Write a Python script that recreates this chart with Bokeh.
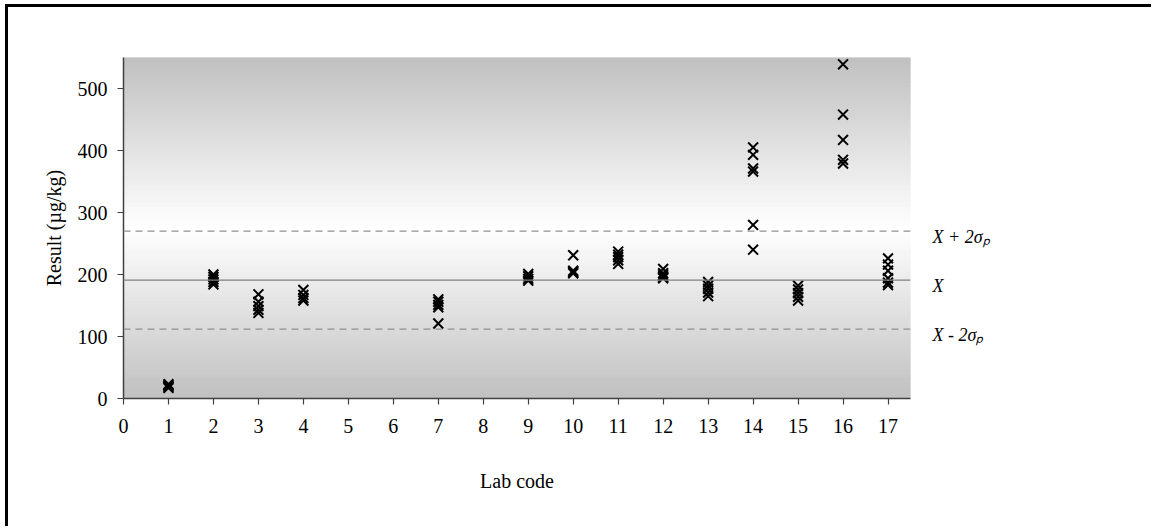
import numpy as np
from bokeh.plotting import figure
from bokeh.models import Span, Range1d, FixedTicker, LinearAxis
from bokeh.embed import file_html
from bokeh.resources import INLINE

# ---- data ----
lab01 = [17, 19, 21, 23]
lab02 = [200, 196, 192, 188, 184]
lab03 = [168, 156, 149, 143, 138]
lab04 = [175, 167, 162, 158]
lab07 = [160, 156, 151, 147, 121]
lab09 = [201, 197, 193, 190]
lab10 = [231, 206, 204, 202]
lab11 = [237, 232, 228, 223, 217]
lab12 = [209, 202, 199, 196, 194]
lab13 = [188, 182, 177, 171, 165]
lab14 = [405, 393, 371, 366, 280, 240]
lab15 = [182, 176, 170, 164, 158]
lab16 = [539, 458, 417, 385, 379]
lab17 = [226, 216, 206, 194, 187, 183]

lab_codes = [1, 2, 3, 4, 7, 9, 10, 11, 12, 13, 14, 15, 16, 17]
lab_results = [lab01, lab02, lab03, lab04, lab07, lab09, lab10, lab11,
               lab12, lab13, lab14, lab15, lab16, lab17]

assigned_value = 191
upper_limit = 270
lower_limit = 112
limit_labels = {upper_limit: "X + 2σₚ", assigned_value: "X", lower_limit: "X  - 2σₚ"}

x_ticks = list(range(0, 18))
y_ticks = [0, 100, 200, 300, 400, 500]
x_max = 17.5
y_max = 550

xs, ys = [], []
for code, vals in zip(lab_codes, lab_results):
    xs += [code] * len(vals)
    ys += vals

p = figure(width=1146, height=522, output_backend="svg", toolbar_location=None,
           x_range=Range1d(0, x_max), y_range=Range1d(0, y_max),
           min_border_left=115, min_border_right=244, min_border_top=50,
           min_border_bottom=131)
p.styles = {"margin-left": "5px", "margin-top": "4px",
            "border-left": "3px solid black", "border-top": "3px solid black"}
p.outline_line_color = None
p.xgrid.visible = False
p.ygrid.visible = False
p.background_fill_color = "white"
p.border_fill_color = "white"

# gradient background: grey at top/bottom, white in the middle
n_bands = 110
edges = np.linspace(0, y_max, n_bands + 1)
mids = (edges[:-1] + edges[1:]) / 2
t = np.abs(mids - y_max / 2) / (y_max / 2)
g = (255 - 63 * t).round().astype(int)
cols = ["#%02x%02x%02x" % (v, v, v) for v in g]
p.quad(left=0, right=x_max, bottom=edges[:-1], top=edges[1:],
       fill_color=cols, line_color=cols, line_width=1)

# reference lines
p.add_layout(Span(location=assigned_value, dimension="width",
                  line_color="#808080", line_width=1.2))
p.add_layout(Span(location=upper_limit, dimension="width",
                  line_color="#909090", line_width=1.2, line_dash="7 5"))
p.add_layout(Span(location=lower_limit, dimension="width",
                  line_color="#909090", line_width=1.2, line_dash="7 5"))

p.scatter(xs, ys, marker="x", size=14, line_color="black", line_width=2)

# axes
font = "Liberation Serif"
for ax in (p.xaxis[0], p.yaxis[0]):
    ax.axis_line_color = "#404040"
    ax.axis_line_width = 1.5
    ax.major_tick_line_color = "#404040"
    ax.major_tick_line_width = 1.2
    ax.major_tick_out = 6
    ax.major_tick_in = 0
    ax.minor_tick_line_color = None
    ax.major_label_text_font = font
    ax.major_label_text_font_size = "20px"
    ax.major_label_text_color = "black"
    ax.axis_label_text_font = font
    ax.axis_label_text_font_style = "normal"
    ax.axis_label_text_font_size = "20px"
    ax.axis_label_text_color = "black"

p.xaxis.ticker = FixedTicker(ticks=x_ticks)
p.yaxis.ticker = FixedTicker(ticks=y_ticks)
p.xaxis.major_label_standoff = 14
p.yaxis.major_label_standoff = 10
p.xaxis.axis_label = "Lab code"
p.yaxis.axis_label = "Result (µg/kg)"
p.xaxis.axis_label_standoff = 34
p.yaxis.axis_label_standoff = 10

# right-hand labels for the limit lines (slightly lowered like the original)
p.extra_y_ranges = {"limits": Range1d(10, y_max + 10)}
rax = LinearAxis(y_range_name="limits",
                 ticker=FixedTicker(ticks=list(limit_labels.keys())),
                 major_label_overrides=limit_labels)
rax.axis_line_color = None
rax.major_tick_line_color = None
rax.minor_tick_line_color = None
rax.major_tick_out = 0
rax.major_tick_in = 0
rax.major_label_standoff = 22
rax.major_label_text_font = font
rax.major_label_text_font_style = "italic"
rax.major_label_text_font_size = "18px"
rax.major_label_text_color = "black"
p.add_layout(rax, "right")

open("out.html", "w").write(file_html(p, INLINE))
